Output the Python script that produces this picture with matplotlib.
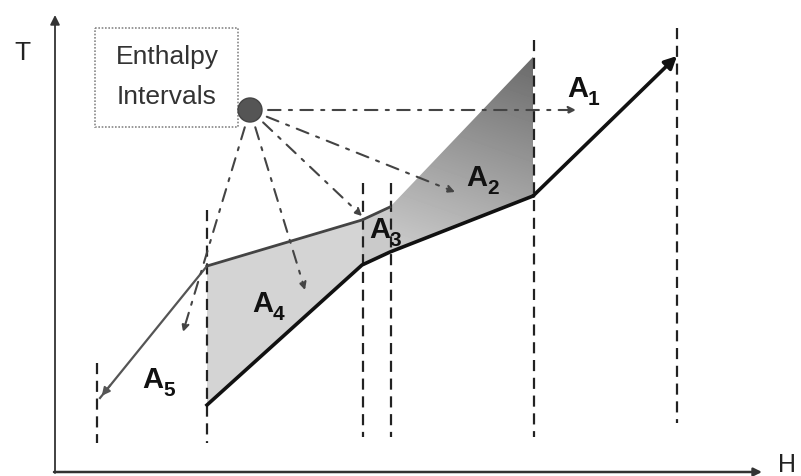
import numpy as np
import matplotlib
matplotlib.use("Agg")
import matplotlib.pyplot as plt
from matplotlib.patches import Polygon, Rectangle, Circle

plt.rcParams['font.family'] = ['Liberation Sans', 'DejaVu Sans']

# ---- data (in the diagram's H/T coordinate frame) ----
hot_H = [100, 207, 362, 390, 533]
hot_T = [398, 266, 220, 207, 57]
cold_H = [207, 362, 390, 533, 677]
cold_T = [405, 265, 252, 196, 56]
interval_H = [97, 207, 363, 391, 534, 677]
interval_top = [363, 210, 183, 183, 40, 28]
interval_bottom = [443, 443, 437, 437, 437, 423]
area_labels = ["1", "2", "3", "4", "5"]
label_pos = [(567, 97), (466, 186), (369, 238), (252, 312), (142, 388)]
hub = (250, 110)
arrow_targets = [(576, 110), (455, 192), (362, 216), (305, 290), (183, 332)]

fig = plt.figure(figsize=(8.01, 4.76), dpi=100)
ax = fig.add_axes([0, 0, 1, 1])
ax.set_xlim(0, 801)
ax.set_ylim(476, 0)
ax.axis('off')

# ---- shaded areas ----
def interp(xs, ys, x):
    return float(np.interp(x, xs, ys))

# A4 and A3 (light fill)
for (x0, x1), col in [((207, 362), '#d4d4d4'), ((362, 390), '#cacaca')]:
    xs = [x for x in sorted(set(hot_H + cold_H)) if x0 <= x <= x1]
    top = [(x, interp(hot_H, hot_T, x)) for x in xs]
    bot = [(x, interp(cold_H, cold_T, x)) for x in xs[::-1]]
    ax.add_patch(Polygon(top + bot, closed=True, facecolor=col, edgecolor='none', zorder=1))

# A2 gradient fill
x0, x1 = 390, 533
xs = [x for x in sorted(set(hot_H + cold_H)) if x0 <= x <= x1]
top = [(x, interp(hot_H, hot_T, x)) for x in xs]
bot = [(x, interp(cold_H, cold_T, x)) for x in xs[::-1]]
poly = Polygon(top + bot, closed=True, facecolor='none', edgecolor='none')
ax.add_patch(poly)
gy, gx = np.mgrid[40:260, 385:540]
val = 0.80 - (250 - gy) / 190 * 0.30 - (gx - 390) / 143 * 0.08
val = np.clip(val, 0.40, 0.85)
im = ax.imshow(val, extent=[385, 540, 260, 40], cmap='gray', vmin=0, vmax=1,
               origin='upper', zorder=1, interpolation='bilinear')
im.set_clip_path(poly)
ax.set_xlim(0, 801)
ax.set_ylim(476, 0)

# ---- interval lines ----
for x, t, b in zip(interval_H, interval_top, interval_bottom):
    ax.plot([x, x], [t, b], color='#222222', lw=1.6, dashes=(5, 3), zorder=3)

# ---- hot composite ----
ax.plot(hot_H[:2], hot_T[:2], color='#555555', lw=1.6, zorder=4)
ax.plot(hot_H[1:4], hot_T[1:4], color='#444444', lw=2.0, zorder=4)
ax.annotate('', xy=(hot_H[0], hot_T[0]), xytext=(hot_H[0] + 12, hot_T[0] - 15),
            arrowprops=dict(arrowstyle='-|>', color='#555555', lw=1.4,
                            mutation_scale=12), zorder=4)

# ---- cold composite ----
ax.plot(cold_H[:-1], cold_T[:-1], color='#111111', lw=2.6, zorder=4,
        solid_joinstyle='round')
ax.annotate('', xy=(cold_H[-1], cold_T[-1]), xytext=(cold_H[-2], cold_T[-2]),
            arrowprops=dict(arrowstyle='-|>', color='#111111', lw=2.6,
                            mutation_scale=18, shrinkA=0, shrinkB=0), zorder=4)

# ---- axes ----
ax.annotate('', xy=(55, 15), xytext=(55, 473),
            arrowprops=dict(arrowstyle='-|>', color='#333333', lw=1.3,
                            mutation_scale=14, shrinkA=0, shrinkB=0))
ax.annotate('', xy=(762, 472), xytext=(54, 472),
            arrowprops=dict(arrowstyle='-|>', color='#333333', lw=1.8,
                            mutation_scale=12, shrinkA=0, shrinkB=0))
ax.text(22, 53, 'T', fontsize=19, color='#222222', ha='center', va='center')
ax.text(787, 465, 'H', fontsize=18, color='#222222', ha='center', va='center')

# ---- box ----
ax.add_patch(Rectangle((95, 28), 143, 99, facecolor='white', edgecolor='#888888',
                       lw=1.2, linestyle=(0, (1, 1)), zorder=5))
ax.text(167, 57, 'Enthalpy', fontsize=19, color='#333333', ha='center', va='center', zorder=6)
ax.text(167, 97, 'Intervals', fontsize=19, color='#333333', ha='center', va='center', zorder=6)

# ---- hub and arrows ----
for tx, ty in arrow_targets:
    ax.annotate('', xy=(tx, ty), xytext=hub,
                arrowprops=dict(arrowstyle='-|>', color='#444444', lw=1.5,
                                linestyle=(0, (6, 4, 1.5, 4)), mutation_scale=11,
                                shrinkA=13, shrinkB=0), zorder=6)
ax.add_patch(Circle(hub, 12, facecolor='#555555', edgecolor='#444444', zorder=7))

# ---- labels ----
for lab, (lx, ly) in zip(area_labels, label_pos):
    ax.text(lx, ly, 'A', fontsize=21, fontweight='bold', color='#111111',
            ha='left', va='baseline', zorder=8)
    ax.text(lx + 21, ly + 8, lab, fontsize=15, fontweight='bold', color='#111111',
            ha='left', va='baseline', zorder=8)

fig.savefig('out.png', dpi=100)
